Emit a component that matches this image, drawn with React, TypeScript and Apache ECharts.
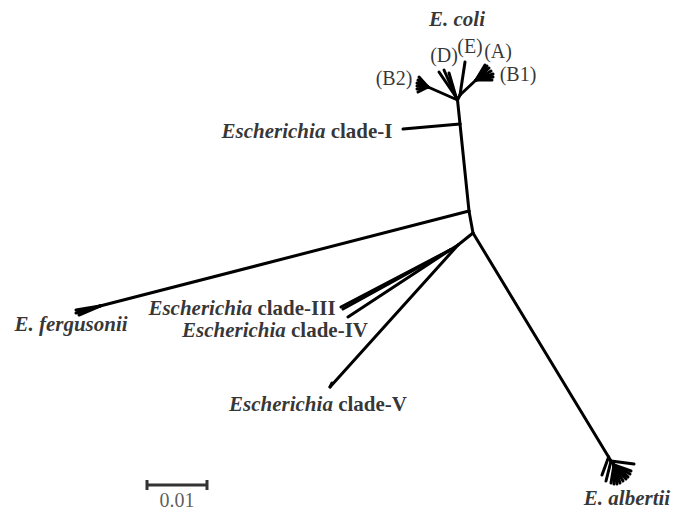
import React, { useEffect, useRef } from "react";
import * as echarts from "echarts";

const W = 685;
const H = 512;

// Tree plot units: 6000 units = 1 substitution per site (scale bar 0.01 = 60 units)
const UNITS_PER_SUBST = 6000;
const SCALE_VALUE = 0.01;

// Node names and positions of the unrooted tree (plot units)
const nodeNames = [
  "ecoli", "cI", "cI_tip", "ferg", "n4", "n5", "n6", "III", "III2", "IV", "V", "V2",
  "fergN", "f1", "f2", "f3",
  "albB", "albA", "alb_h", "alb_p1", "alb_p2", "albF",
  "af1", "af2", "af3", "af4", "af5", "af6", "af7", "af8", "af9",
  "b2N", "b2_1", "b2_2", "b2_3", "b2_4", "b2_5", "b2_6",
  "dN", "d1", "d2", "d3",
  "eN", "e1", "abN",
  "ab1", "ab2", "ab3", "ab4", "ab5", "ab6", "ab7",
];
const nodeX = [
  457.5, 460, 403, 469, 473, 458, 450, 343, 341, 348, 330, 332,
  100, 76, 76, 79,
  608.6, 611, 634, 602, 606, 614,
  611, 614, 617, 620, 623, 626, 628, 630, 631,
  428, 419, 418, 417, 417, 417, 418,
  456, 439, 444, 449,
  460, 465, 476,
  485, 487, 489, 491, 493, 493, 492,
];
const nodeY = [
  100, 124, 129, 211, 233, 245, 250, 309, 307, 317, 387, 383,
  306, 310, 313, 315,
  457, 461, 464, 475, 481, 465,
  483, 484, 484, 483, 481, 479, 477, 474, 471,
  87, 77, 80, 83, 86, 89, 92,
  97, 72, 70, 73,
  95, 62, 80,
  65, 66, 68, 71, 74, 77, 80,
];

const edges: [string, string][] = [
  ["ecoli", "cI"], ["cI", "cI_tip"], ["cI", "ferg"],
  ["ferg", "fergN"], ["fergN", "f1"], ["fergN", "f2"], ["fergN", "f3"],
  ["ferg", "n4"], ["n4", "n5"], ["n5", "V"], ["V", "V2"], ["n5", "n6"],
  ["n6", "III"], ["n6", "III2"], ["n6", "IV"],
  ["n4", "albB"], ["albB", "albA"], ["albB", "alb_p1"], ["albA", "alb_p2"],
  ["albA", "alb_h"], ["albA", "albF"],
  ["albF", "af1"], ["albF", "af2"], ["albF", "af3"], ["albF", "af4"], ["albF", "af5"],
  ["albF", "af6"], ["albF", "af7"], ["albF", "af8"], ["albF", "af9"],
  ["ecoli", "b2N"], ["b2N", "b2_1"], ["b2N", "b2_2"], ["b2N", "b2_3"], ["b2N", "b2_4"],
  ["b2N", "b2_5"], ["b2N", "b2_6"],
  ["ecoli", "dN"], ["dN", "d1"], ["dN", "d2"], ["dN", "d3"],
  ["ecoli", "eN"], ["eN", "e1"], ["eN", "abN"],
  ["abN", "ab1"], ["abN", "ab2"], ["abN", "ab3"], ["abN", "ab4"], ["abN", "ab5"],
  ["abN", "ab6"], ["abN", "ab7"],
];

// Labels
const labelTexts = [
  "{bi|E. coli}",
  "{n|(D)}",
  "{n|(E)}",
  "{n|(A)}",
  "{n|(B2)}",
  "{n|(B1)}",
  "{bi|Escherichia}{b| clade-I}",
  "{bi|Escherichia}{b| clade-III}",
  "{bi|Escherichia}{b| clade-IV}",
  "{bi|Escherichia}{b| clade-V}",
  "{bi|E. fergusonii}",
  "{bi|E. albertii}",
];
const labelX = [457, 444, 470, 498, 394, 518, 307, 242, 275, 318, 71, 627];
const labelY = [19, 55, 46, 51, 78, 74, 131, 308, 330, 404, 324, 498];

const scaleBarStart = [147, 485];
const scaleLabel = "0.01";

function nodePos(name: string): [number, number] {
  const i = nodeNames.indexOf(name);
  return [nodeX[i], nodeY[i]];
}

export default function App() {
  const ref = useRef<HTMLDivElement>(null);
  useEffect(() => {
    if (!ref.current) return;
    const chart = echarts.init(ref.current, undefined, { renderer: "svg" });

    const edgeData = edges.map(([a, b]) => {
      const p = nodePos(a);
      const q = nodePos(b);
      return [p[0], p[1], q[0], q[1]];
    });

    const barLen = SCALE_VALUE * UNITS_PER_SUBST;
    const [sx, sy] = scaleBarStart;
    const scaleData = [
      [sx, sy, sx + barLen, sy],
      [sx, sy - 5, sx, sy + 5],
      [sx + barLen, sy - 5, sx + barLen, sy + 5],
    ];

    const font = "'Liberation Serif', 'Times New Roman', serif";
    const rich = {
      bi: { fontFamily: font, fontSize: 21, fontStyle: "italic", fontWeight: "bold", color: "#000" },
      b: { fontFamily: font, fontSize: 21, fontWeight: "bold", color: "#000" },
      n: { fontFamily: font, fontSize: 20, fontWeight: "normal", color: "#000" },
      s: { fontFamily: font, fontSize: 20, fontWeight: "normal", color: "#333" },
    };

    const segRender = (color: string, width: number, cap: string) => (params: any, api: any) => {
      const p1 = api.coord([api.value(0), api.value(1)]);
      const p2 = api.coord([api.value(2), api.value(3)]);
      return {
        type: "line",
        shape: { x1: p1[0], y1: p1[1], x2: p2[0], y2: p2[1] },
        style: { stroke: color, lineWidth: width, lineCap: cap },
      };
    };

    const labelData = labelTexts.map((t, i) => ({ value: [labelX[i], labelY[i]], name: t }));
    labelData.push({
      value: [sx + barLen / 2, sy + 15],
      name: "{s|" + scaleLabel + "}",
    });

    chart.setOption({
      animation: false,
      backgroundColor: "#fff",
      grid: { left: 0, right: 0, top: 0, bottom: 0 },
      xAxis: { type: "value", min: 0, max: W, show: false },
      yAxis: { type: "value", min: 0, max: H, inverse: true, show: false },
      series: [
        {
          type: "custom",
          coordinateSystem: "cartesian2d",
          renderItem: segRender("#000", 3, "round"),
          data: edgeData,
          clip: false,
          silent: true,
        },
        {
          type: "custom",
          coordinateSystem: "cartesian2d",
          renderItem: segRender("#333", 3, "butt"),
          data: scaleData,
          clip: false,
          silent: true,
        },
        {
          type: "scatter",
          symbolSize: 1,
          itemStyle: { color: "rgba(0,0,0,0)" },
          silent: true,
          data: labelData,
          label: {
            show: true,
            position: "inside",
            color: "#000",
            formatter: (p: any) => p.name,
            rich,
          },
        },
      ],
    });
    return () => chart.dispose();
  }, []);
  return (
    <div
      ref={ref}
      style={{ position: "fixed", left: 0, top: 0, width: W, height: H, background: "#fff" }}
    />
  );
}
